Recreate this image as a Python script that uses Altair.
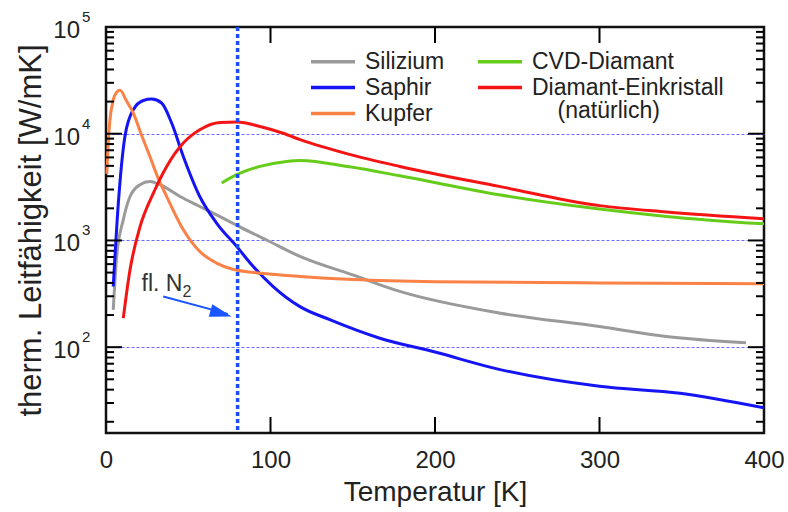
import altair as alt
import pandas as pd

W, H = 658, 406
FONT = "Liberation Sans"
TXT = "#222222"

# ---------------- data ----------------
si_T = [4.4, 6.5, 10.5, 14.6, 20.7, 26.7, 32.8, 45, 57, 69, 81, 97.6, 117.9, 150, 178.6, 239, 300, 340.6, 389]
si_k = [224, 708, 1560, 2580, 3330, 3570, 3330, 2580, 2080, 1680, 1350, 1010, 708, 475, 333, 209, 156, 126, 110]

sa_T = [4.4, 7.5, 11.5, 16.6, 22.7, 27.8, 33.8, 39.9, 47, 57, 67.2, 79.4, 89.5, 101.6, 117.9, 136, 166, 200, 239, 300, 349, 400]
sa_k = [370, 2240, 9430, 16800, 20500, 21100, 19400, 12600, 6120, 2580, 1456, 880, 570, 370, 240, 181, 122, 90, 62, 43, 37, 27]

cu_T = [0.5, 1.5, 2.4, 4.4, 6.5, 8.5, 12.6, 16.6, 21.5, 26.7, 31.5, 36.9, 47, 57, 67.2, 77, 97.6, 118, 150, 200, 300, 400]
cu_k = [4200, 9000, 13500, 20800, 24500, 25500, 20100, 15600, 9800, 6120, 3900, 2580, 1260, 789, 614, 537, 488, 460, 430, 410, 400, 393]

cvd_T = [70.3, 79.4, 93.6, 109.8, 118, 148, 178.6, 239, 300, 340.6, 400]
cvd_k = [3450, 4130, 4940, 5500, 5620, 4900, 4040, 2680, 1970, 1680, 1430]

dia_T = [10.5, 14.6, 20.7, 28.8, 36.9, 47, 57, 69.3, 79.4, 93.6, 107.7, 118, 148, 178.6, 239, 300, 340.6, 400]
dia_k = [187, 531, 1350, 2780, 4940, 8180, 10900, 12760, 12870, 11700, 10100, 8790, 6400, 4940, 3210, 2120, 1850, 1600]

names = ["Silizium", "Saphir", "Kupfer", "CVD-Diamant", "Diamant-Einkristall"]
colors = ["#9a9a9a", "#1414f5", "#fa8246", "#66cc1a", "#f51414"]

x_ticks = [100, 200, 300]
x_labels = [0, 100, 200, 300, 400]
y_major = [100, 1000, 10000]
y_minor = [m * 10 ** e for e in range(1, 5) for m in range(2, 10)]
y_lab_vals = [100, 1000, 10000, 100000]
y_lab_exp = ["2", "3", "4", "5"]

n2_T = 80

# ---------------- tables ----------------
rows = []
for nm, Ts, ks in [("Silizium", si_T, si_k), ("Saphir", sa_T, sa_k), ("Kupfer", cu_T, cu_k),
                   ("CVD-Diamant", cvd_T, cvd_k), ("Diamant-Einkristall", dia_T, dia_k)]:
    for t, k in zip(Ts, ks):
        rows.append({"T": t, "k": k, "Material": nm})
df = pd.DataFrame(rows)

xs = alt.Scale(domain=[0, 400], nice=False, zero=False)
ys = alt.Scale(type="log", domain=[15.7, 100000], nice=False)

lines = alt.Chart(df).mark_line(strokeWidth=3, interpolate="monotone").encode(
    x=alt.X("T:Q", scale=xs, axis=alt.Axis(
        values=x_labels, labelFontSize=24, labelFont=FONT, labelColor=TXT, labelFlush=False,
        labelPadding=34, labelBaseline="alphabetic", ticks=False, tickSize=0, domain=False, grid=False,
        title="Temperatur [K]", titleFontSize=28, titleFont=FONT, titleColor=TXT, titleFontWeight="normal",
        titleY=67, titleBaseline="alphabetic")),
    y=alt.Y("k:Q", scale=ys, axis=alt.Axis(
        values=y_major, labels=False, ticks=False, domain=False, grid=True,
        gridDash=[3, 2], gridColor="#6a6aff", gridWidth=1,
        title="therm. Leitfähigkeit [W/mK]", titleFontSize=31, titleFont=FONT, titleColor=TXT,
        titleFontWeight="normal", titleX=-66, titleY=H / 2, titleBaseline="alphabetic",
        titleLimit=600)),
    color=alt.Color("Material:N", scale=alt.Scale(domain=names, range=colors), sort=names,
                    legend=alt.Legend(orient="none", legendX=205, legendY=23, columns=2, title=None,
                                      symbolType="M-2.3,0L6.5,0", symbolSize=100, symbolStrokeWidth=3.5,
                                      symbolFillColor="transparent",
                                      labelFontSize=23, labelFont=FONT, labelColor=TXT, labelOffset=31,
                                      labelLimit=400, rowPadding=2, columnPadding=26, padding=0)),
)

vline = alt.Chart(pd.DataFrame({"T": [n2_T]})).mark_rule(
    strokeDash=[4, 3], strokeWidth=3.5, color="#1a4cff").encode(x=alt.X("T:Q", scale=xs))

tk = pd.DataFrame({"T": x_ticks})
xt_bot = alt.Chart(tk).mark_rule(color="#000", strokeWidth=2).encode(
    x=alt.X("T:Q", scale=xs), y=alt.value(H - 16), y2=alt.value(H))
xt_top = alt.Chart(tk).mark_rule(color="#000", strokeWidth=2).encode(
    x=alt.X("T:Q", scale=xs), y=alt.value(0), y2=alt.value(16))

ymaj = pd.DataFrame({"k": y_major})
ymin = pd.DataFrame({"k": y_minor})
def yticks(d, x0, x1):
    return alt.Chart(d).mark_rule(color="#000", strokeWidth=2).encode(
        y=alt.Y("k:Q", scale=ys), x=alt.value(x0), x2=alt.value(x1))
ticks = [yticks(ymaj, 0, 16), yticks(ymaj, W - 16, W), yticks(ymin, 0, 8), yticks(ymin, W - 8, W)]

ylab = pd.DataFrame({"k": y_lab_vals, "e": y_lab_exp, "b": ["10"] * 4})
ylab_base = alt.Chart(ylab).mark_text(align="right", baseline="middle", fontSize=24, font=FONT,
                                      color=TXT, dy=4).encode(
    y=alt.Y("k:Q", scale=ys), x=alt.value(-26), text="b:N")
ylab_exp = alt.Chart(ylab).mark_text(align="left", baseline="middle", fontSize=15, font=FONT,
                                     color=TXT, dy=-10).encode(
    y=alt.Y("k:Q", scale=ys), x=alt.value(-24), text="e:N")

# annotation "fl. N2" with arrow
ann = pd.DataFrame({"T": [21.6], "k": [338], "t": ["fl. N"]})
ann_sub = pd.DataFrame({"T": [46.5], "k": [297], "t": ["2"]})
ann_txt = alt.Chart(ann).mark_text(align="left", baseline="alphabetic", fontSize=23, font=FONT,
                                   color="#333333").encode(
    x=alt.X("T:Q", scale=xs), y=alt.Y("k:Q", scale=ys), text="t:N")
ann_sub_txt = alt.Chart(ann_sub).mark_text(align="left", baseline="alphabetic", fontSize=16, font=FONT,
                                           color="#333333").encode(
    x=alt.X("T:Q", scale=xs), y=alt.Y("k:Q", scale=ys), text="t:N")
arrow = pd.DataFrame({"T": [34.8, 74.0], "k": [299, 205]})
arrow_line = alt.Chart(arrow).mark_line(color="#1a55ff", strokeWidth=2).encode(
    x=alt.X("T:Q", scale=xs), y=alt.Y("k:Q", scale=ys))
head = pd.DataFrame({"T": [76.4], "k": [194]})
arrow_head = alt.Chart(head).mark_point(shape="M0,0L-2.2,-0.65L-2.2,0.65Z", size=400, angle=16,
                                        filled=True, color="#1a55ff", opacity=1, strokeWidth=0).encode(
    x=alt.X("T:Q", scale=xs), y=alt.Y("k:Q", scale=ys))

nat = pd.DataFrame({"T": [305.6], "k": [16430], "t": ["(natürlich)"]})
nat_txt = alt.Chart(nat).mark_text(align="center", baseline="middle", fontSize=23, font=FONT,
                                   color=TXT).encode(
    x=alt.X("T:Q", scale=xs), y=alt.Y("k:Q", scale=ys), text="t:N")

chart = alt.layer(lines, vline, xt_bot, xt_top, *ticks, ylab_base, ylab_exp,
                  ann_txt, ann_sub_txt, arrow_line, arrow_head, nat_txt).properties(
    width=W, height=H,
    autosize=alt.AutoSizeParams(type="none"),
    padding={"left": 106, "top": 27, "right": 24, "bottom": 79},
).configure(
    background="white",
    view=alt.ViewConfig(stroke="#111111", strokeWidth=2.5),
)

chart.save("out.html", embed_options={"renderer": "svg", "actions": False})
